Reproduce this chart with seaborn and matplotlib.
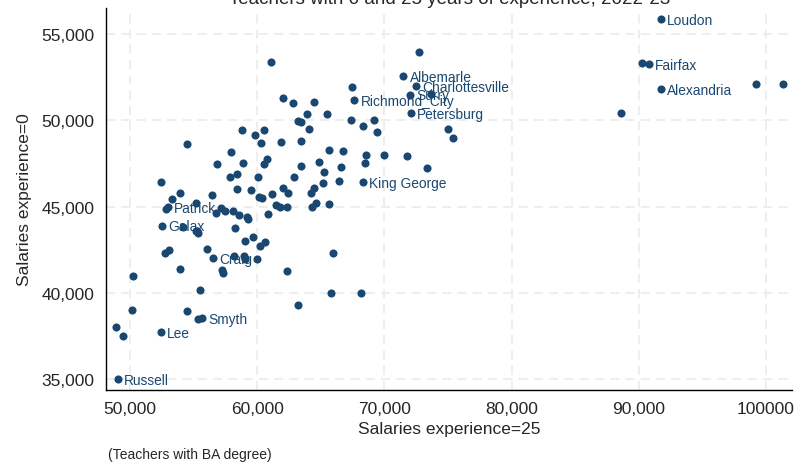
import numpy as np
import pandas as pd
import seaborn as sns
import matplotlib
matplotlib.use("Agg")
import matplotlib.pyplot as plt

# unlabeled divisions: salary at 25 years, salary at 0 years (BA degree)
sal25 = [61100, 62000, 62780, 64480, 63890, 65510, 63220, 63470, 67420, 67340,
         58820, 59820, 60510, 60310, 61890, 63470, 64040, 54480, 57910, 65660,
         66770, 56850, 58850, 60570, 60780, 63470, 64850, 66550, 65240, 57830,
         58410, 60070, 62910, 52420, 53930, 53340, 56440, 58380, 59490, 60160,
         60350, 61180, 62060, 62430, 64220, 64440, 65180, 66430, 52800, 55210,
         56760, 57150, 57460, 58110, 58590, 59170, 59290, 60840, 61450, 61820,
         62310, 64280, 64600, 65660, 54190, 55170, 55370, 55260, 58250, 59060,
         59690, 60210, 60580, 52730, 53060, 56030, 58170, 58960, 59060, 60000,
         53900, 57200, 57280, 62310, 65990, 50260, 55500, 65810, 68160, 63170,
         50130, 54500, 55320, 48920, 49430, 72740, 73640, 69210, 68300, 69420,
         75030, 75360, 68580, 69950, 71760, 68480, 73380, 90270, 99200, 101370,
         88570]
sal0 = [53360, 51310, 50990, 51050, 50350, 50360, 49990, 49910, 51950, 50000,
        49440, 49160, 49420, 48690, 48760, 48820, 49490, 48620, 48160, 48300,
        48210, 47500, 47510, 47460, 47750, 47340, 47580, 47280, 47000, 46720,
        46920, 46700, 46720, 46450, 45780, 45450, 45670, 46010, 45990, 45550,
        45490, 45720, 46100, 45820, 45780, 46100, 46370, 46490, 44870, 45200,
        44610, 44910, 44780, 44750, 44520, 44430, 44290, 44600, 45100, 45010,
        45000, 45000, 45200, 45150, 43840, 43610, 43480, 43570, 43770, 43020,
        43260, 42710, 42970, 42320, 42510, 42530, 42130, 42160, 41970, 42000,
        41390, 41350, 41140, 41300, 42310, 41000, 40180, 39990, 39990, 39310,
        39000, 38980, 38520, 38020, 37510, 53940, 51500, 50000, 49670, 49310,
        49500, 48990, 48010, 48010, 47910, 47510, 47220, 53300, 52120, 52120,
        50440]

# labeled divisions
lab_names = ["Loudon", "Fairfax", "Alexandria", "Albemarle", "Charlottesville",
             "Surry", "Richmond_City", "Petersburg", "King George", "Patrick",
             "Galax", "Craig", "Smyth", "Lee", "Russell"]
lab_sal25 = [91730, 90790, 91730, 71500, 72520, 71990, 67620, 72070, 68300,
             52990, 52540, 56540, 55680, 52440, 49030]
lab_sal0 = [55870, 53250, 51820, 52550, 51970, 51480, 51170, 50410, 46410,
            44970, 43900, 42010, 38540, 37750, 35010]

df = pd.DataFrame({"x": sal25 + lab_sal25, "y": sal0 + lab_sal0})

navy = "#1a476f"

sns.set_style("white")
plt.rcParams["font.family"] = ["Liberation Sans", "DejaVu Sans"]

fig = plt.figure(figsize=(8.08, 4.64), dpi=100)
ax = fig.add_axes([0.1308, 0.158, 0.850, 0.8226])

sns.scatterplot(data=df, x="x", y="y", ax=ax, color=navy, s=34,
                edgecolor=navy, linewidth=0, zorder=3)

for name, xv, yv in zip(lab_names, lab_sal25, lab_sal0):
    ax.annotate(name, (xv, yv), xytext=(4.5, -0.5), textcoords="offset points",
                va="center", ha="left", fontsize=9.9, color=navy, zorder=4)

ax.set_xlim(48090, 102080)
ax.set_ylim(34405, 56505)

xt = [50000, 60000, 70000, 80000, 90000, 100000]
ax.set_xticks(xt)
ax.set_xticklabels(["50,000", "60,000", "70,000", "80,000", "90,000", "100000"])
yt = [35000, 40000, 45000, 50000, 55000]
ax.set_yticks(yt)
ax.set_yticklabels([f"{v:,}" for v in yt])

ax.grid(True, color="#eaeaea", linestyle=(0, (6, 4)), linewidth=1.1)
ax.set_axisbelow(True)
for side in ["top", "right"]:
    ax.spines[side].set_visible(False)
for side in ["left", "bottom"]:
    ax.spines[side].set_color("black")
    ax.spines[side].set_linewidth(1.0)
ax.tick_params(axis="both", direction="out", length=5, width=1,
               color="#333333", labelsize=12.5, pad=3)

ax.set_xlabel("Salaries experience=25", fontsize=12.5, labelpad=4)
ax.set_ylabel("Salaries experience=0", fontsize=12.5, labelpad=7)

fig.text(0.557, 1 - 4.5 / 464, "Teachers with 0 and 25 years of experience, 2022-23",
         ha="center", va="baseline", fontsize=13.5)
fig.text(0.134, 1 - 455 / 464, "(Teachers with BA degree)", ha="left",
         va="center", fontsize=10)

fig.savefig("out.png", dpi=100)
